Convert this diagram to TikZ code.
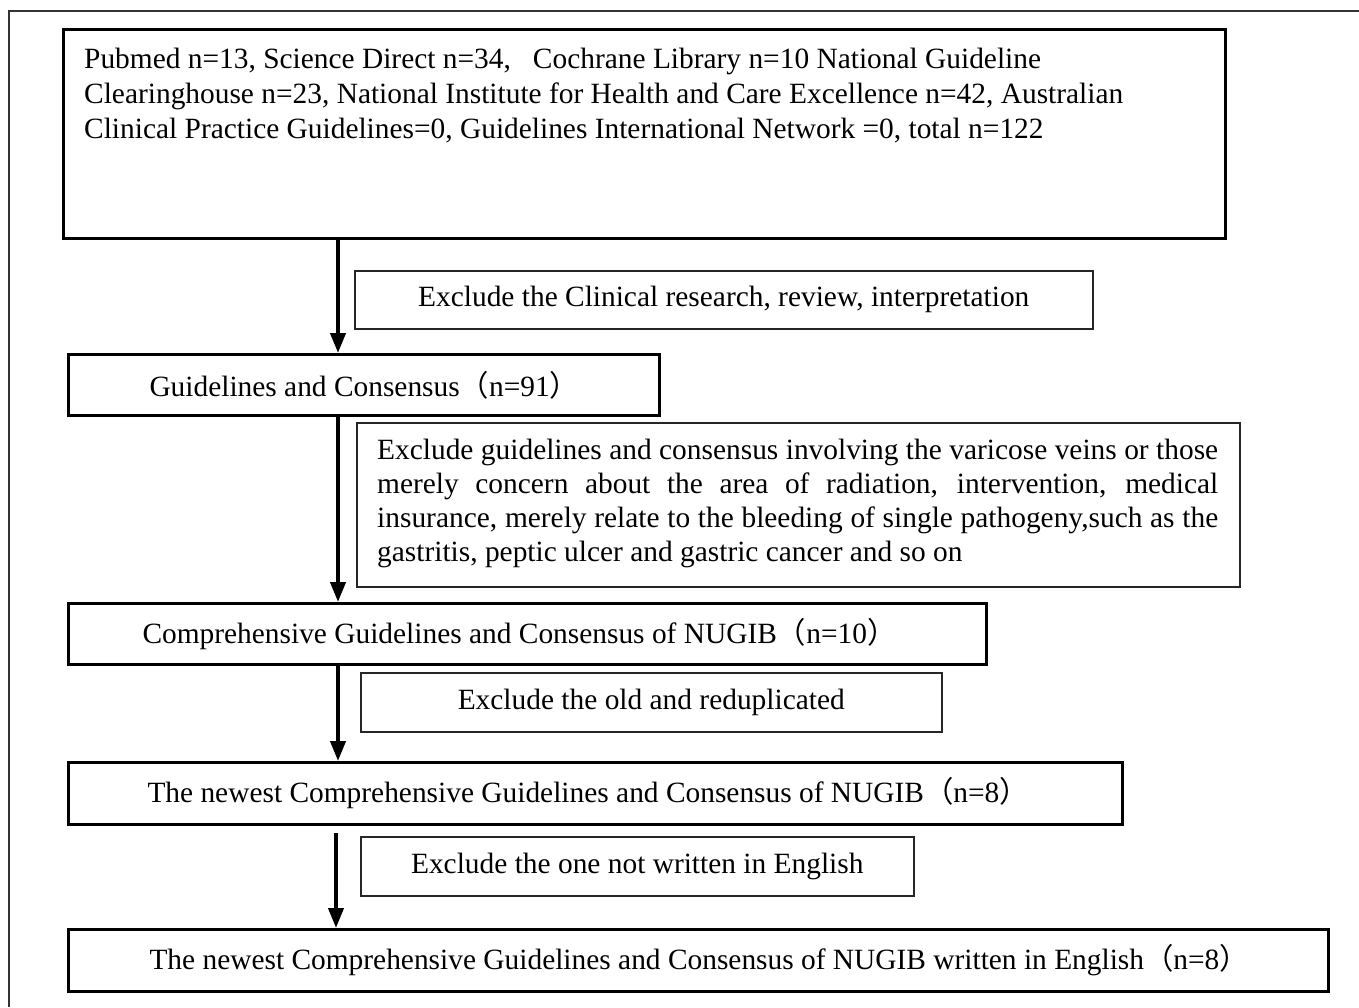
\documentclass[tikz,border=0pt]{standalone}
\usepackage{fontspec}
\setmainfont{Liberation Serif}
\newfontfamily\cjk{Noto Sans CJK SC}
\usetikzlibrary{arrows.meta}
\newcommand{\lp}{{\cjk （}}
\newcommand{\rp}{{\cjk ）}}
\newcommand{\padtext}[3]{\makebox[#1][l]{\hspace{#2}#3}}
\newcommand{\dn}[1]{\raisebox{-3pt}{#1}}
\begin{document}
\begin{tikzpicture}[x=1pt,y=-1pt,
  bigbox/.style={draw=black,line width=3pt,inner sep=0pt},
  fbox/.style={bigbox,txt,anchor=north west},
  exbox/.style={draw=black!85,line width=1.5pt,inner sep=0pt,font=\fontsize{29.4}{34}\selectfont},
  txt/.style={inner sep=0pt,font=\fontsize{29.4}{35}\selectfont},
  arr/.style={line width=4pt,-{Triangle[length=20pt,width=15pt]}}]
\useasboundingbox (0,0) rectangle (1359,1007);
\draw[line width=1.5pt,black!80] (9,1007) -- (9,11) -- (1359,11);
% main boxes
\node[bigbox,anchor=north west,minimum width=1162pt,minimum height=209pt] (b1) at (62,28) {};
\node[txt,anchor=north west,align=left] (t1) at (84,48) {Pubmed n=13, Science Direct n=34,\ \ \ Cochrane Library n=10 National Guideline\\Clearinghouse n=23, National Institute for Health and Care Excellence n=42, Australian\\Clinical Practice Guidelines=0, Guidelines International Network =0, total n=122};
\node[fbox,minimum height=61pt] (b2) at (67,353) {\padtext{591pt}{81pt}{Guidelines and Consensus\lp n=91\rp}};
\node[fbox,minimum height=61pt] (b3) at (67,602) {\padtext{918pt}{74pt}{Comprehensive Guidelines and Consensus of NUGIB\lp n=10\rp}};
\node[fbox,minimum height=62pt] (b4) at (67,761) {\padtext{1054pt}{79pt}{The newest Comprehensive Guidelines and Consensus of NUGIB\lp n=8\rp}};
\node[fbox,minimum height=62pt] (b5) at (67,928) {\padtext{1260pt}{81pt}{The newest Comprehensive Guidelines and Consensus of NUGIB written in English\lp n=8\rp}};
% exclusion boxes
\node[exbox,anchor=north west,minimum width=738pt,minimum height=58pt] (e1) at (354,270) {\dn{Exclude the Clinical research, review, interpretation}};
\node[exbox,anchor=north west,minimum width=883pt,minimum height=164pt] (e2) at (356,422) {};
\node[txt,anchor=north west,font=\fontsize{29.4}{34}\selectfont,align=left] (t2) at (377,439) {%
\makebox[841pt][s]{Exclude guidelines and consensus involving the varicose veins or those}\\
\makebox[841pt][s]{merely concern about the area of radiation, intervention, medical}\\
\makebox[841pt][s]{insurance, merely relate to the bleeding of single pathogeny,such as the}\\
gastritis, peptic ulcer and gastric cancer and so on};
\node[exbox,anchor=north west,minimum width=581pt,minimum height=59pt] (e3) at (360,672) {\dn{Exclude the old and reduplicated}};
\node[exbox,anchor=north west,minimum width=553pt,minimum height=59pt] (e4) at (360,836) {\dn{Exclude the one not written in English}};
% arrows
\coordinate (ax) at (338,0);
\coordinate (ay) at (336,0);
\draw[arr] (b1.south -| ax) -- (b2.north -| ax);
\draw[arr] (b2.south -| ax) -- (b3.north -| ax);
\draw[arr] (b3.south -| ax) -- (b4.north -| ax);
\draw[arr] ([yshift=-7pt]b4.south -| ay) -- (b5.north -| ay);
\end{tikzpicture}
\end{document}
